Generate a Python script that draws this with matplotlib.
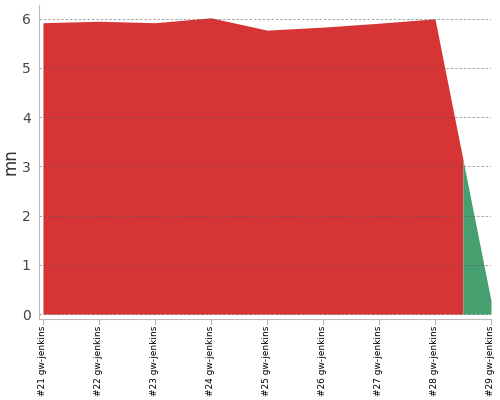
import matplotlib
matplotlib.use("Agg")
import matplotlib.pyplot as plt
import numpy as np

builds = ["#21 gw-jenkins", "#22 gw-jenkins", "#23 gw-jenkins", "#24 gw-jenkins",
          "#25 gw-jenkins", "#26 gw-jenkins", "#27 gw-jenkins", "#28 gw-jenkins",
          "#29 gw-jenkins"]
durations = [5.92, 5.95, 5.92, 6.02, 5.77, 5.83, 5.91, 6.0, 0.27]
status = ["fail", "fail", "fail", "fail", "fail", "fail", "fail", "fail", "ok"]
colors = {"fail": "#d73535", "ok": "#459f6f"}

fig = plt.figure(figsize=(5, 4), dpi=100)
ax = fig.add_axes([0.078, 0.2025, 0.904, 0.785])

x = np.arange(len(builds), dtype=float)
y = np.array(durations)

# group consecutive segments of same colour into one polygon each
runs = []
start = 0
for i in range(1, len(x)):
    if status[i] != status[i - 1]:
        runs.append((start, i - 1))
        start = i
runs.append((start, len(x) - 1))
for (a, b) in runs:
    xs = list(x[a:b + 1])
    ys = list(y[a:b + 1])
    if a > 0:
        xs = [(x[a - 1] + x[a]) / 2] + xs
        ys = [(y[a - 1] + y[a]) / 2] + ys
    if b < len(x) - 1:
        xs = xs + [(x[b] + x[b + 1]) / 2]
        ys = ys + [(y[b] + y[b + 1]) / 2]
    ax.fill_between(xs, ys, 0, color=colors[status[a]], lw=0, zorder=1)

ax.set_xlim(-0.07, 8)
ax.set_ylim(-0.1, 6.28)
ax.set_yticks(range(0, 7))
ax.set_xticks(x)
ax.set_xticklabels(builds, rotation=90, fontsize=6.5)
ax.yaxis.grid(True, linestyle=(0, (2.5, 2)), color="#555555", alpha=0.55, lw=0.7, zorder=3)
ax.set_axisbelow(False)
ax.tick_params(axis="y", length=0, pad=6, labelsize=10, labelcolor="#444444")
ax.tick_params(axis="x", length=4, color="#bbbbbb", pad=1)
for s in ["top", "right"]:
    ax.spines[s].set_visible(False)
for s in ["left", "bottom"]:
    ax.spines[s].set_color("#bbbbbb")
ax.set_ylabel("mn", fontsize=12, color="#333333")
ax.yaxis.set_label_coords(-0.044, 0.5)

fig.savefig("out.png", dpi=100)
